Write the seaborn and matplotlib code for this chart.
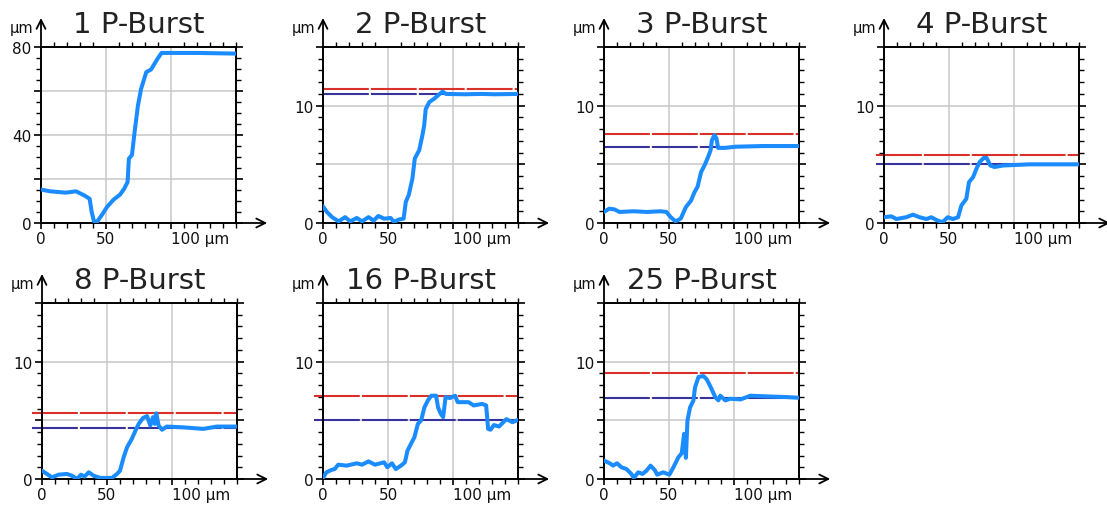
import numpy as np
import pandas as pd
import matplotlib
matplotlib.use("Agg")
import matplotlib.pyplot as plt
import matplotlib.transforms as mtransforms
from matplotlib.ticker import MultipleLocator, FixedLocator
import seaborn as sns

# ---------------- data ----------------
titles = ["1 P-Burst", "2 P-Burst", "3 P-Burst", "4 P-Burst",
          "8 P-Burst", "16 P-Burst", "25 P-Burst"]

p1_x = [0, 7, 19, 27, 34, 37.4, 39, 40.7, 43, 47, 50.8, 55.8, 60.8, 64, 66.6, 67.6, 70, 72, 74.6, 77, 81, 84.7, 89.7, 92.7, 99.7, 120, 150]
p1_y = [15.2, 14.4, 13.8, 14.4, 12.3, 11, 5, 0.8, 0.5, 3.8, 7.3, 10.6, 12.9, 15.6, 18.6, 29.2, 31, 41.4, 53.5, 61, 68.6, 69.8, 74.7, 77.3, 77.3, 77.3, 77]

p2_x = [0, 3, 7, 12, 17, 21, 26, 30, 35, 39, 42.5, 47, 52, 54.6, 58.5, 62, 63.7, 66, 68.8, 70.6, 74, 76.5, 77.8, 79, 81.7, 85.6, 88.7, 92, 94.6, 108.8, 121.6, 132, 150]
p2_y = [1.42, 0.94, 0.5, 0.14, 0.5, 0.14, 0.43, 0.14, 0.5, 0.2, 0.6, 0.37, 0.43, 0.1, 0.3, 0.37, 1.8, 2.4, 3.8, 5.5, 6.2, 7.5, 8.3, 9.7, 10.3, 10.6, 10.9, 11.2, 11.0, 10.97, 11.0, 10.97, 11.0]

p3_x = [0, 4, 8, 12, 22.7, 33, 43.5, 48, 51.3, 55, 59, 63, 66.9, 69.5, 72, 74.7, 77.3, 80, 82, 83, 85, 86.5, 87.8, 93, 100.8, 121.6, 150]
p3_y = [0.94, 1.22, 1.16, 0.94, 1.0, 0.94, 1.0, 0.94, 0.5, 0.14, 0.37, 1.36, 1.9, 2.6, 3.1, 4.35, 4.9, 5.6, 6.2, 7.05, 7.5, 7.2, 6.4, 6.4, 6.5, 6.56, 6.56]

p4_x = [0, 5.6, 9.5, 17, 22.3, 27.4, 32.6, 36.4, 40.3, 44.9, 49, 53, 57, 59.5, 63.3, 65.4, 68.5, 71, 73.6, 76.7, 79, 81.8, 85, 91.5, 112, 150]
p4_y = [0.49, 0.57, 0.34, 0.49, 0.71, 0.49, 0.34, 0.49, 0.26, 0.06, 0.49, 0.34, 0.49, 1.49, 2.06, 3.49, 3.9, 4.6, 5.2, 5.54, 5.54, 4.9, 4.77, 4.9, 5.0, 5.0]

p8_x = [0, 3.8, 7.7, 12.8, 19.2, 23, 27, 30, 32.6, 36, 39.7, 44.9, 53.8, 57.7, 60, 62.8, 65.4, 69, 71.8, 74.4, 77.7, 80.8, 83.3, 85.4, 86.7, 87.9, 89.7, 92.3, 96, 109, 124, 134.6, 150]
p8_y = [0.71, 0.43, 0.14, 0.37, 0.43, 0.28, 0.0, 0.37, 0.2, 0.57, 0.28, 0.09, 0.09, 0.43, 0.71, 1.85, 2.7, 3.4, 4.1, 4.7, 5.2, 5.36, 4.56, 5.27, 4.7, 5.6, 4.56, 4.2, 4.47, 4.4, 4.27, 4.47, 4.47]

p16_x = [0, 2.6, 6.5, 9, 11.7, 18.2, 26, 30, 35, 40, 47, 49.5, 53, 56, 60, 63, 65, 67.7, 70.3, 73, 75.5, 78, 80.7, 83.3, 87, 88.5, 90.6, 92.4, 94.3, 97.7, 101.6, 103.6, 112, 115.9, 122.4, 125.5, 127, 128.9, 131.5, 135.4, 141, 145.8, 150]
p16_y = [0.09, 0.57, 0.77, 0.85, 1.22, 1.14, 1.34, 1.22, 1.5, 1.22, 1.42, 1.0, 1.34, 0.85, 1.14, 1.42, 2.42, 3.0, 3.56, 4.7, 5.0, 6.1, 6.7, 7.1, 7.1, 6.1, 5.56, 5.27, 6.98, 6.9, 7.1, 6.55, 6.55, 6.27, 6.4, 6.27, 4.27, 4.2, 4.6, 4.47, 5.1, 4.84, 5.04]

p25_x = [0, 4.4, 7, 10, 13.4, 17.3, 21, 23, 26.3, 29.6, 32.7, 35.8, 39, 40.9, 45.6, 50.3, 53.4, 57.2, 59.8, 61.6, 63, 64.2, 66.2, 68.8, 70, 72.7, 76.5, 79, 82.2, 85.6, 88, 89.4, 93.3, 97.2, 105, 112.6, 125.5, 141, 150]
p25_y = [1.57, 1.34, 1.14, 1.34, 1.0, 0.85, 0.43, 0.09, 0.57, 0.43, 0.71, 1.14, 0.77, 0.37, 0.57, 0.37, 1.0, 1.85, 2.2, 3.85, 1.8, 4.99, 6.1, 6.7, 7.8, 8.7, 8.77, 8.5, 7.8, 6.98, 6.7, 7.1, 6.7, 6.84, 6.78, 7.1, 7.04, 6.98, 6.92]

profiles_x = [p1_x, p2_x, p3_x, p4_x, p8_x, p16_x, p25_x]
profiles_y = [p1_y, p2_y, p3_y, p4_y, p8_y, p16_y, p25_y]

# reference levels (red = peak, navy = plateau); None for panel 1
red_levels = [None, 11.45, 7.6, 5.77, 5.64, 7.09, 9.03]
navy_levels = [None, 11.0, 6.5, 5.0, 4.33, 5.04, 6.87]
level_start_um = [0, 0, 0, -6, -7.5, -7, 0]

y_max = [80, 15, 15, 15, 15, 15, 15]
y_labels = [[0, 40, 80], [0, 10], [0, 10], [0, 10], [0, 10], [0, 10], [0, 10]]
y_grid_step = [20, 5, 5, 5, 5, 5, 5]
y_minor_step = [5, 1, 1, 1, 1, 1, 1]
x_max = 150
x_labels = ["0", "50", "100 µm"]
x_label_pos = [0, 50, 100]

# ---------------- style ----------------
sns.set_style("ticks")
plt.rcParams["font.family"] = ["DejaVu Sans"]

BLUE = "#1a8cff"
RED = "#d9302a"
NAVY = "#37339a"
GRID = "#c8c8c8"

fig = plt.figure(figsize=(11.07, 5.06), dpi=100)
W, H = 1107.0, 506.0
lefts = [41, 323, 604, 884, 42, 323, 604]
bottoms = [224, 224, 224, 224, 480, 480, 480]
aw, ah = 195.0, 176.0

for i in range(7):
    ax = fig.add_axes([lefts[i] / W, 1 - bottoms[i] / H, aw / W, ah / H])
    df = pd.DataFrame({"x": profiles_x[i], "y": profiles_y[i]})
    ax.set_xlim(0, x_max)
    ax.set_ylim(0, y_max[i])

    # grid
    ax.xaxis.set_major_locator(FixedLocator(x_label_pos))
    ax.yaxis.set_major_locator(MultipleLocator(y_grid_step[i]))
    ax.xaxis.set_minor_locator(MultipleLocator(10))
    ax.yaxis.set_minor_locator(MultipleLocator(y_minor_step[i]))
    ax.grid(True, which="major", color=GRID, lw=1.1, zorder=0)
    ax.set_axisbelow(True)

    if red_levels[i] is not None:
        xs = level_start_um[i]
        x0 = (xs - 0) / x_max
        ax.axhline(red_levels[i], xmin=x0, xmax=1, color=RED, lw=1.5,
                   ls=(0, (22, 1)), clip_on=False, zorder=2)
        ax.axhline(navy_levels[i], xmin=x0, xmax=1, color=NAVY, lw=1.5,
                   ls=(0, (22, 1)), clip_on=False, zorder=2)

    sns.lineplot(data=df, x="x", y="y", ax=ax, color=BLUE, lw=2.9,
                 zorder=3, sort=False, estimator=None)
    ax.set_xlabel("")
    ax.set_ylabel("")

    # tick labels
    ylabs = [str(int(v)) if v in y_labels[i] else "" for v in ax.get_yticks()]
    ax.set_yticks(ax.get_yticks())
    ax.set_yticklabels(ylabs)
    ax.set_ylim(0, y_max[i])
    ax.set_xticks(x_label_pos)
    ax.set_xticklabels(x_labels)
    ax.set_xlim(0, x_max)
    # "100 µm": number starts just left of its tick
    lbl = ax.get_xticklabels()[-1]
    lbl.set_horizontalalignment("left")
    lbl.set_transform(lbl.get_transform() +
                      mtransforms.ScaledTranslation(-9.5 / 100, 0, fig.dpi_scale_trans))

    for s in ax.spines.values():
        s.set_visible(True)
        s.set_color("black")
        s.set_linewidth(1.4)
    ax.tick_params(which="both", direction="out", top=True, right=True,
                   color="black", labelcolor="#111111", labelsize=11, pad=2)
    ax.tick_params(which="major", length=5, width=1.2)
    ax.tick_params(which="minor", length=3.5, width=1.0)
    ax.tick_params(axis="x", which="major", top=False, length=4)

    # axis arrows
    ax.annotate("", xy=(1.16, 0), xytext=(1.0, 0), xycoords="axes fraction",
                arrowprops=dict(arrowstyle="->", lw=1.3, color="black",
                                shrinkA=0, shrinkB=0, mutation_scale=16),
                annotation_clip=False)
    ax.annotate("", xy=(0, 1.165), xytext=(0, 1.0), xycoords="axes fraction",
                arrowprops=dict(arrowstyle="->", lw=1.3, color="black",
                                shrinkA=0, shrinkB=0, mutation_scale=16),
                annotation_clip=False)
    ax.text(-0.04, 1.085, "µm", transform=ax.transAxes, ha="right",
            va="baseline", fontsize=10.5, color="#111111")
    ax.set_title(titles[i], fontsize=21, pad=11, color="#222222")

fig.savefig("out.png", dpi=100)
